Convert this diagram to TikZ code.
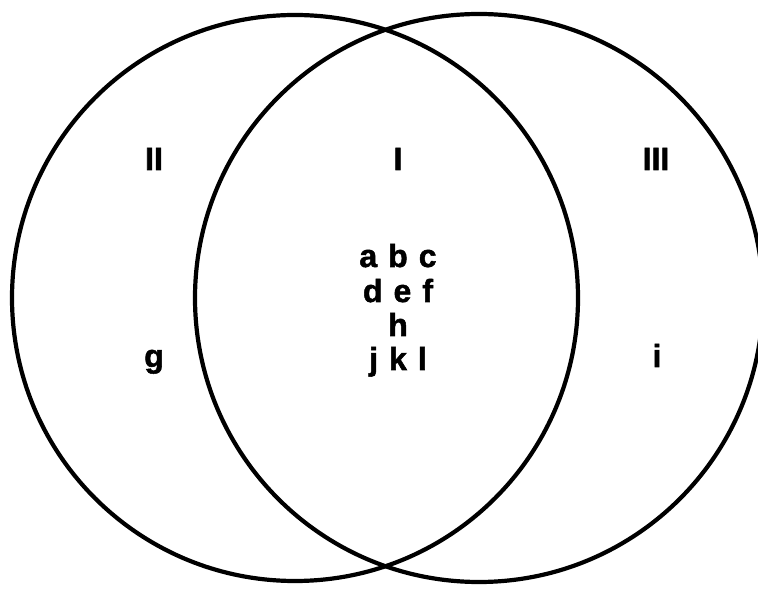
\documentclass[tikz,border=0pt]{standalone}
\usepackage{fontspec}
\setmainfont{Liberation Sans}[BoldFeatures={FakeBold=1.6}]
\begin{document}
\begin{tikzpicture}[x=1pt,y=1pt,
  ring/.style={draw=black,line width=4.2pt},
  lab/.style={font=\fontsize{32}{36}\selectfont\bfseries,inner sep=0pt,anchor=base}]
\useasboundingbox (0,0) rectangle (758,592);
\fill[white] (0,0) rectangle (758,592);
\draw[ring] (295,294) circle[radius=283];
\draw[ring] (479,294) circle[radius=284];
\node[lab] (II) at (154,592-170) {II};
\node[lab] (I) at (398,592-170) {I};
\node[lab] (III) at (656,592-170) {III};
\node[lab] (abc) at (398,592-267) {a\hspace{11pt}b\hspace{11pt}c};
\node[lab] (def) at (398,592-302) {d\hspace{11pt}e\hspace{11pt}f};
\node[lab] (h) at (398,592-336) {h};
\node[lab] (jkl) at (398,592-370) {j\hspace{11pt}k\hspace{11pt}l};
\node[lab] (g) at (154,592-367) {g};
\node[lab] (i) at (657,592-367) {i};
\end{tikzpicture}
\end{document}
